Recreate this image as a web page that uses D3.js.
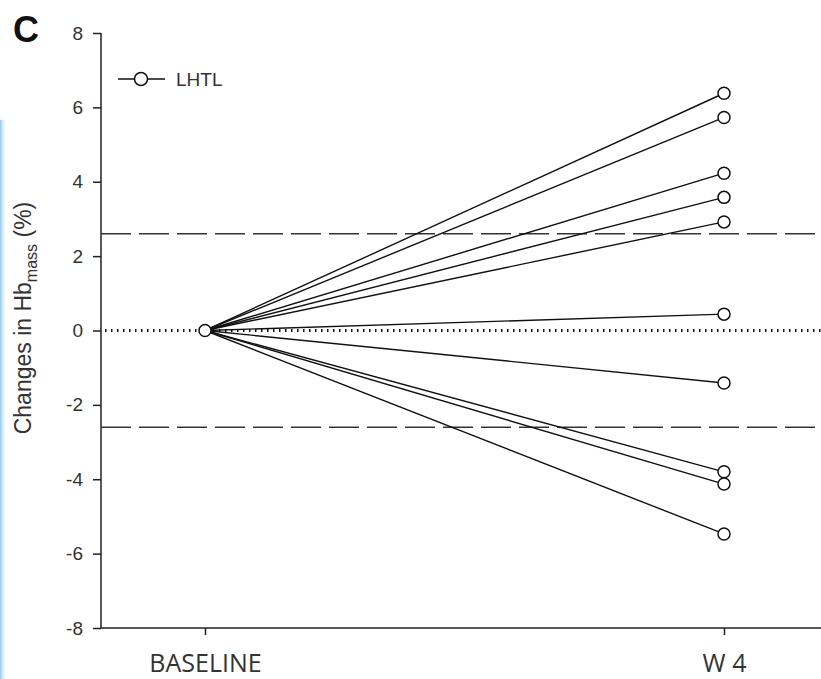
<!DOCTYPE html>
<html>
<head>
<meta charset="utf-8">
<script src="https://cdn.jsdelivr.net/npm/d3@7"></script>
<style>
  body { margin: 0; background: #fff; }
  svg { display: block; }
</style>
</head>
<body>
<svg id="chart" width="821" height="679"></svg>
<script>
// time points on the x axis
var timepoints = ["BASELINE", "W 4"];
// change in Hb mass (%) at W 4 for each subject, baseline is 0
var w4Change = [6.38, 5.73, 4.23, 3.58, 2.92, 0.44, -1.41, -3.80, -4.13, -5.47];
var yTicks = [-8, -6, -4, -2, 0, 2, 4, 6, 8];
var thresholds = [2.6, -2.6];

var svg = d3.select("#chart");

// plot edges (px)
var plotLeft = 101, plotRight = 821, plotTop = 33, plotBottom = 628;

var x = d3.scalePoint()
    .domain(timepoints)
    .range([205, 724]);

var y = d3.scaleLinear()
    .domain([-8, 8])
    .range([plotBottom, plotTop]);

// faint blue strip at the left edge of the scan
var grad = svg.append("defs").append("linearGradient")
    .attr("id", "edge").attr("x1", 0).attr("x2", 1);
grad.append("stop").attr("offset", 0).attr("stop-color", "#8cc6ee");
grad.append("stop").attr("offset", 1).attr("stop-color", "#ffffff").attr("stop-opacity", 0);
svg.append("rect")
    .attr("x", 0).attr("y", 120).attr("width", 7).attr("height", 559)
    .attr("fill", "url(#edge)");

// y axis (plain hyphen for negatives, like the original)
var yAxis = svg.append("g")
    .attr("transform", "translate(" + plotLeft + ",0)")
    .call(d3.axisLeft(y).tickValues(yTicks).tickSize(8).tickPadding(10)
        .tickFormat(function(d) { return d < 0 ? "-" + Math.abs(d) : String(d); }));
yAxis.select(".domain").attr("stroke", "#222").attr("stroke-width", 1.5)
    .attr("d", "M0," + plotTop + "V" + plotBottom);
yAxis.selectAll(".tick line").attr("stroke", "#222").attr("stroke-width", 1.5);
yAxis.selectAll(".tick text")
    .attr("fill", "#333")
    .style("font-family", "'Liberation Sans', Arial, sans-serif")
    .style("font-size", "19px");

// x axis
var xAxis = svg.append("g")
    .attr("transform", "translate(0," + plotBottom + ")")
    .call(d3.axisBottom(x).tickSize(7).tickPadding(19));
xAxis.select(".domain").attr("stroke", "#222").attr("stroke-width", 1.5)
    .attr("d", "M" + plotLeft + ",0H" + plotRight);
xAxis.selectAll(".tick line").attr("stroke", "#222").attr("stroke-width", 1.5);
xAxis.selectAll(".tick text")
    .attr("fill", "#333")
    .style("font-family", "'Open Sans', sans-serif")
    .style("font-size", "25px");

// reference lines
svg.append("line")
    .attr("x1", plotLeft + 4).attr("x2", plotRight)
    .attr("y1", y(0)).attr("y2", y(0))
    .attr("stroke", "#111").attr("stroke-width", 3)
    .attr("stroke-dasharray", "1.5,4.5");

svg.selectAll(".thr")
    .data(thresholds)
    .enter().append("line")
    .attr("class", "thr")
    .attr("x1", plotLeft).attr("x2", plotRight)
    .attr("y1", function(d) { return y(d); })
    .attr("y2", function(d) { return y(d); })
    .attr("stroke", "#333").attr("stroke-width", 1.5)
    .attr("stroke-dasharray", "30,8");

// subject lines
svg.selectAll(".subj")
    .data(w4Change)
    .enter().append("line")
    .attr("class", "subj")
    .attr("x1", x("BASELINE")).attr("y1", y(0))
    .attr("x2", x("W 4"))
    .attr("y2", function(d) { return y(d); })
    .attr("stroke", "#111").attr("stroke-width", 1.4);

svg.selectAll(".pt")
    .data(w4Change)
    .enter().append("circle")
    .attr("class", "pt")
    .attr("cx", x("W 4"))
    .attr("cy", function(d) { return y(d); })
    .attr("r", 6)
    .attr("fill", "#fff").attr("stroke", "#111").attr("stroke-width", 1.5);

svg.append("circle")
    .attr("cx", x("BASELINE")).attr("cy", y(0)).attr("r", 6)
    .attr("fill", "#fff").attr("stroke", "#111").attr("stroke-width", 1.5);

// legend
svg.append("line")
    .attr("x1", 118).attr("x2", 165).attr("y1", 79).attr("y2", 79)
    .attr("stroke", "#111").attr("stroke-width", 1.4);
svg.append("circle")
    .attr("cx", 141).attr("cy", 79).attr("r", 6.5)
    .attr("fill", "#fff").attr("stroke", "#111").attr("stroke-width", 1.5);
svg.append("text")
    .attr("x", 176).attr("y", 86)
    .attr("fill", "#333")
    .style("font-family", "'Liberation Sans', Arial, sans-serif")
    .style("font-size", "19px")
    .text("LHTL");

// panel letter
svg.append("text")
    .attr("x", 13).attr("y", 42)
    .style("font-family", "'Liberation Sans', Arial, sans-serif")
    .style("font-size", "36px").style("font-weight", "bold")
    .attr("fill", "#111")
    .text("C");

// y label
var yl = svg.append("text")
    .attr("transform", "translate(31,318) rotate(-90)")
    .attr("text-anchor", "middle")
    .attr("fill", "#333")
    .style("font-family", "'Liberation Sans', Arial, sans-serif")
    .style("font-size", "23px");
yl.append("tspan").text("Changes in Hb");
yl.append("tspan").attr("dy", 6).style("font-size", "16px").text("mass");
yl.append("tspan").attr("dy", -6).text(" (%)");
</script>
</body>
</html>
